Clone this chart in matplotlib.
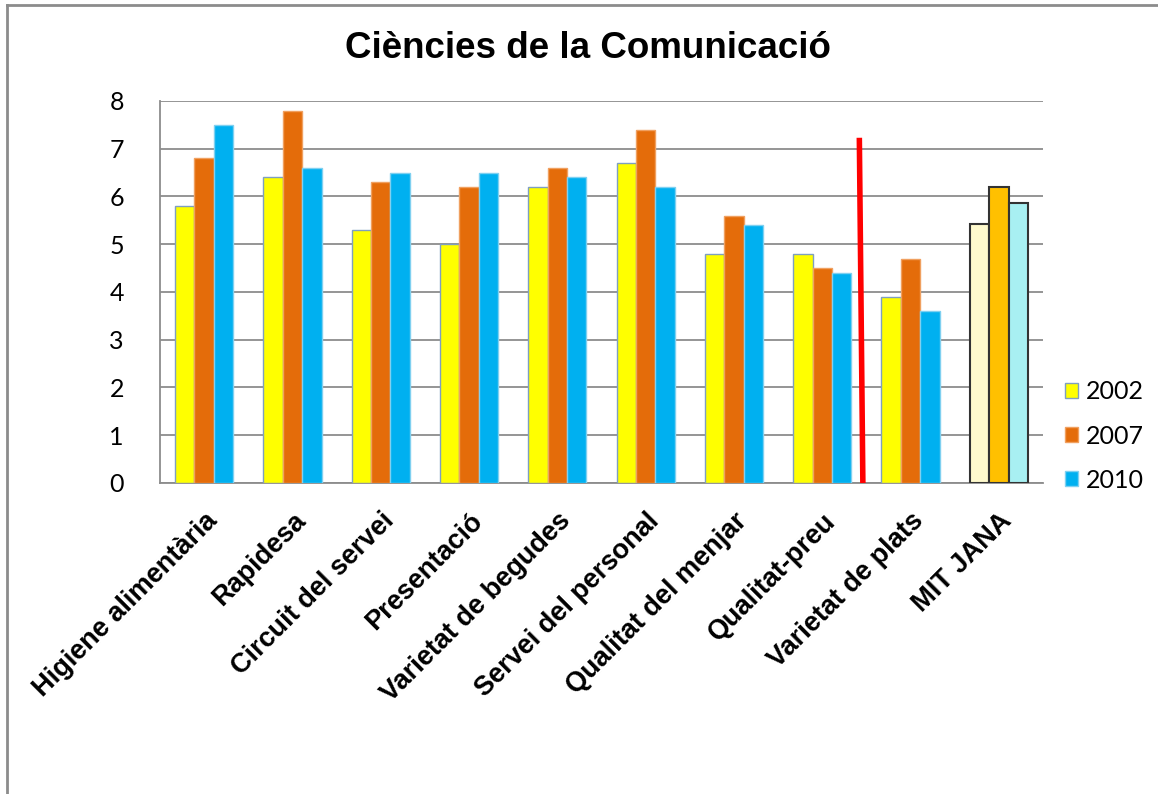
import matplotlib
matplotlib.use("Agg")
import matplotlib.pyplot as plt
from matplotlib.lines import Line2D
from matplotlib.patches import Patch
import numpy as np

# data
categories = ["Higiene alimentària", "Rapidesa", "Circuit del servei", "Presentació",
              "Varietat de begudes", "Servei del personal", "Qualitat del menjar",
              "Qualitat-preu", "Varietat de plats", "MIT JANA"]
years = ["2002", "2007", "2010"]
v2002 = [5.8, 6.4, 5.3, 5.0, 6.2, 6.7, 4.8, 4.8, 3.9, 5.42]
v2007 = [6.8, 7.8, 6.3, 6.2, 6.6, 7.4, 5.6, 4.5, 4.7, 6.2]
v2010 = [7.5, 6.6, 6.5, 6.5, 6.4, 6.2, 5.4, 4.4, 3.6, 5.87]
yticks = [0, 1, 2, 3, 4, 5, 6, 7, 8]
red_line_x = [7.42, 7.46]
red_line_y = [7.23, 0]

fills = ["#FFFF00", "#E46C0A", "#00B0F0"]
edges = ["#7F9FC0", "#F0A060", "#7FD0F0"]
avg_fills = ["#FFFACD", "#FFC000", "#A8F0F2"]

fig = plt.figure(figsize=(11.58, 7.94), dpi=100)
ax = fig.add_axes([160 / 1158, 1 - 483 / 794, 883 / 1158, 382 / 794])

x = np.arange(len(categories))
w = 0.22
n = len(categories)
for i, vals in enumerate([v2002, v2007, v2010]):
    pos = x + (i - 1) * w
    ax.bar(pos[:n - 1], vals[:n - 1], width=w, color=fills[i], edgecolor=edges[i],
           linewidth=1, zorder=3)
    ax.bar(pos[n - 1], vals[n - 1], width=w, color=avg_fills[i], edgecolor="#333333",
           linewidth=1.5, zorder=3)

ax.plot(red_line_x, red_line_y, color="#FF0000", linewidth=4, zorder=4,
        solid_capstyle="butt")

ax.set_xlim(-0.5, n - 0.5)
ax.set_ylim(0, 8)
ax.set_yticks(yticks)
ax.set_yticklabels([str(t) for t in yticks], fontsize=18, family="Lato")
ax.tick_params(axis="y", length=0, pad=26)
ax.grid(axis="y", color="#8C8C8C", linewidth=1.3, zorder=0)
ax.set_axisbelow(True)
for s in ["top", "right"]:
    ax.spines[s].set_visible(False)
ax.spines["left"].set_color("#8C8C8C")
ax.spines["bottom"].set_color("#8C8C8C")
ax.spines["left"].set_linewidth(1.3)
ax.spines["bottom"].set_linewidth(1.3)

ax.set_xticks(x)
ax.set_xticklabels(categories, rotation=45, ha="right", rotation_mode="anchor",
                   fontsize=19.5, fontweight="bold", family="Liberation Sans")
ax.tick_params(axis="x", length=0, pad=18)

fig.text(588 / 1158, 1 - 48 / 794, "Ciències de la Comunicació", ha="center", va="center",
         fontsize=26.5, fontweight="bold", family="Liberation Sans")

handles = [Patch(facecolor=fills[i], edgecolor=edges[i], label=years[i]) for i in range(3)]
leg = fig.legend(handles=handles, loc="center left", bbox_to_anchor=(1042 / 1158, 1 - 436 / 794),
                 frameon=False, prop={"family": "Lato", "size": 18}, handlelength=0.55,
                 handleheight=0.55, handletextpad=0.3, labelspacing=0.85)

# chart frame
fig.add_artist(Line2D([7 / 1158, 7 / 1158], [0, 1 - 5 / 794], color="#8C8C8C", linewidth=2,
                      transform=fig.transFigure))
fig.add_artist(Line2D([7 / 1158, 1], [1 - 5 / 794, 1 - 5 / 794], color="#8C8C8C", linewidth=2,
                      transform=fig.transFigure))

fig.savefig("out.png", dpi=100)
